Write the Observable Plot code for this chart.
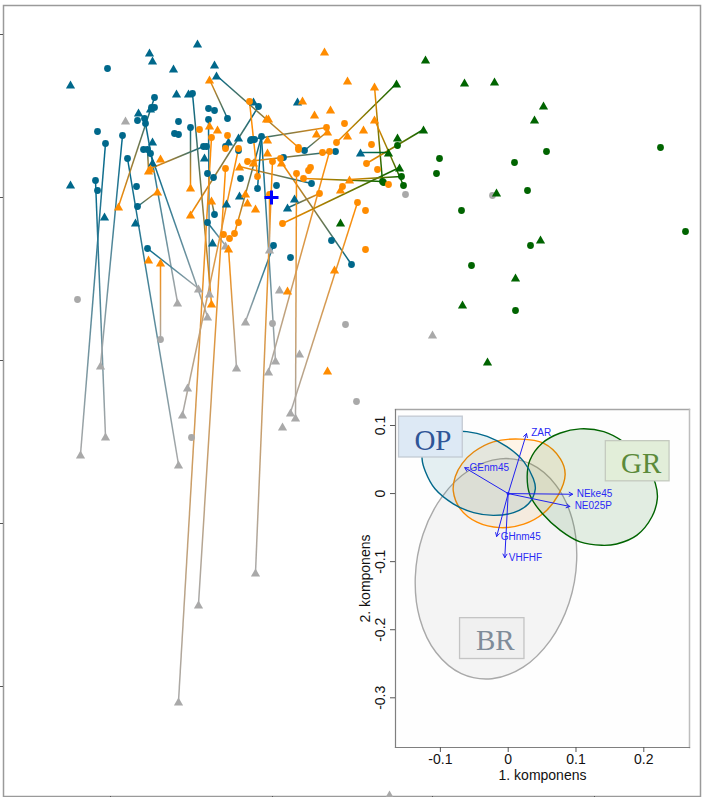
<!DOCTYPE html>
<html>
<head>
<meta charset="utf-8">
<script src="https://cdn.jsdelivr.net/npm/d3@7"></script>
<script src="https://cdn.jsdelivr.net/npm/@observablehq/plot@0.6"></script>
<style>
html,body{margin:0;padding:0;background:#fff}
#wrap{position:relative;width:705px;height:797px;overflow:hidden}
#wrap svg{position:absolute;background:transparent;max-width:none;overflow:visible}
</style>
</head>
<body>
<div id="wrap"></div>
<script>
// Scores on the two components, relative to the centroid (the blue cross). The main panel carries no tick labels.
const opTriangles = [[-201,113],[-122,145],[-119,137],[-74,154],[-98,129],[-57,133],[-55,122],[-95,104],[-83,104],[-133,85],[-121,89],[-119,56],[-119,35],[-201,13],[-67,40],[-43,56],[-33,60],[-32,2],[-45,-6],[-59,-45],[-136,-25],[-167,-19],[-18,96],[26,96],[16,-10],[23,-1],[89,45]];
const opCircles = [[-164,129],[-117,100],[-120,90],[-117,90],[-174,66],[-134,77],[-127,79],[-126,74],[-93,76],[-79,104],[-63,89],[-57,87],[-44,79],[-63,78],[-81,70],[-97,64],[-93,63],[-149,62],[-166,54],[-128,48],[-124,48],[-121,44],[-144,39],[-176,17],[-174,7],[-135,11],[-68,51],[-65,51],[-46,51],[-33,47],[-64,24],[-58,20],[-31,19],[-21,57],[-13,91],[-20,58],[-17,58],[-10,61],[-14,9],[5,12],[12,40],[33,47],[64,46],[40,14],[-57,-17],[-64,-25],[-134,-9],[-124,-51],[2,-48],[60,-43],[19,-60],[80,-67]];
const orTriangles = [[-62,118],[-62,72],[-54,68],[-111,39],[-123,27],[-121,29],[-114,6],[-81,10],[-32,31],[-26,4],[-60,-3],[-153,-9],[-81,-17],[-24,-5],[-16,-11],[-43,-51],[-123,-62],[-111,-65],[-60,-106],[16,-93],[63,-72],[56,-173],[53,146],[76,117],[103,111],[31,97],[43,83],[59,88],[103,78],[92,68],[76,62],[45,64],[56,66],[-3,79],[-5,79],[-4,58],[-4,45],[-18,35],[10,35],[78,18],[69,8]];
const orCircles = [[-72,68],[-60,60],[-44,62],[-46,49],[-33,49],[-24,36],[-46,29],[-22,96],[-14,21],[1,36],[9,39],[-2,3],[-48,-37],[-42,-41],[-37,-36],[-33,-25],[11,-26],[48,4],[25,24],[32,19],[39,30],[37,27],[71,11],[73,74],[55,70],[27,50],[27,48],[65,55],[100,53],[95,34],[106,28],[117,13],[86,-5],[94,-13],[94,-52],[51,45],[58,46]];
const grTriangles = [[154,138],[193,115],[223,116],[272,92],[263,78],[152,68],[125,114],[126,60],[128,30],[117,45],[225,5],[269,-42],[244,-80],[191,-107],[216,-164],[69,-25]];
const grCircles = [[168,39],[275,46],[243,35],[389,50],[165,24],[256,7],[190,-13],[414,-34],[259,-48],[200,-68],[244,-113],[126,52],[130,21],[132,12],[111,16],[112,15]];
const brTriangles = [[-171,-168],[-94,-105],[-73,-91],[-64,-119],[-62,-96],[-46,-48],[-26,-124],[-35,-170],[4,-163],[-3,-174],[28,-156],[8,-92],[-2,-52],[-84,-190],[-89,-217],[-93,-267],[-16,-375],[-73,-407],[-93,-504],[11,-229],[19,-215],[24,-220],[-146,77],[161,-137],[118,-597],[-191,-257],[-166,-239]];
const brCircles = [[-194,-102],[-111,-142],[-80,-240],[1,-126],[74,-127],[85,-204],[134,3],[221,2]];
const centroid = [[0,0]];
// Paired observations: [x1,y1,x2,y2,group1,group2]
const links = [
[-166,54,-191,-257,"OP","BR"],[-176,17,-166,-239,"OP","BR"],[-149,62,-171,-168,"OP","BR"],[-144,39,-93,-267,"OP","BR"],[-126,74,-94,-105,"OP","BR"],[-121,44,-64,-119,"OP","BR"],[-124,-51,-73,-91,"OP","BR"],[-63,78,-62,-96,"OP","BR"],[-64,-25,-46,-48,"OP","BR"],[2,-48,-26,-124,"OP","BR"],[-10,61,4,-163,"OP","BR"],
[-153,-9,-117,100,"OR","OP"],[-114,6,-134,-9,"OR","OP"],[-81,10,-81,70,"OR","OP"],[-121,29,-68,51,"OR","OP"],[-123,27,-124,48,"OR","OP"],[-62,118,-44,79,"OR","OP"],[-60,-106,-79,104,"OR","OP"],[-81,-17,-13,91,"OR","OP"],[-60,-3,-57,-17,"OR","OP"],[-37,-36,-10,61,"OR","OP"],[55,70,-20,58,"OR","OP"],[56,66,33,47,"OR","OP"],[27,50,-55,122,"OR","OP"],[10,35,80,-67,"OR","OP"],[-24,36,64,46,"OR","OP"],[-32,31,40,14,"OR","OP"],[48,4,17,-10,"OR","OP"],
[-10,61,-14,9,"OP","OP"],
[-111,-65,-111,-142,"OR","BR"],[-60,60,-93,-504,"OR","BR"],[-46,29,-73,-407,"OR","BR"],[-33,49,-89,-217,"OR","BR"],[-43,-51,-35,-170,"OR","BR"],[1,36,-16,-375,"OR","BR"],[-2,3,-2,-52,"OR","BR"],[58,46,-3,-174,"OR","BR"],[25,24,24,-220,"OR","BR"],[86,-5,19,-215,"OR","BR"],
[11,-26,128,30,"OR","GR"],[65,55,125,114,"OR","GR"],[103,111,111,16,"OR","GR"],[103,78,132,12,"OR","GR"],[95,34,152,68,"OR","GR"],[32,19,111,16,"OR","GR"],[78,18,130,21,"OR","GR"],
[-22,96,-14,21,"OR","OR"],[89,45,117,45,"OP","GR"]
];
const groupColors = {OP:"#00688b", OR:"#ff8c00", GR:"#006400", BR:"#a9a9a9"};
const mainXTicks = [-161,1,161,323];
const mainYTicks = [163,0,-163,-326,-489];

// Inset: loading plot
const ellipseOP = [[-0.127,0.051],[-0.125,0.066],[-0.108,0.082],[-0.086,0.090],[-0.061,0.091],[-0.031,0.084],[-0.002,0.069],[0.023,0.047],[0.037,0.022],[0.040,0.007],[0.030,-0.015],[0.008,-0.028],[-0.022,-0.032],[-0.051,-0.028],[-0.081,-0.015],[-0.108,0.007],[-0.122,0.032]];
const ellipseOR = [[-0.068,0.044],[-0.051,0.061],[-0.022,0.076],[0.018,0.080],[0.052,0.074],[0.077,0.051],[0.084,0.028],[0.074,-0.002],[0.052,-0.029],[0.023,-0.045],[-0.012,-0.050],[-0.046,-0.042],[-0.071,-0.022],[-0.081,0.004],[-0.078,0.025]];
const ellipseGR = [[0.032,0.049],[0.050,0.074],[0.077,0.089],[0.106,0.095],[0.141,0.091],[0.170,0.076],[0.200,0.049],[0.217,0.015],[0.220,-0.007],[0.212,-0.034],[0.190,-0.061],[0.160,-0.074],[0.138,-0.076],[0.106,-0.071],[0.077,-0.054],[0.050,-0.029],[0.032,-0.002],[0.028,0.025]];
const ellipseBR = [[0.101,-0.098],[0.0943,-0.0372],[0.0703,0.0125],[0.0331,0.0435],[-0.012,0.051],[-0.0581,0.0339],[-0.0979,-0.0051],[-0.1257,-0.0602],[-0.137,-0.123],[-0.1303,-0.1838],[-0.1063,-0.2335],[-0.0691,-0.2645],[-0.024,-0.272],[0.0221,-0.2549],[0.0619,-0.2159],[0.0897,-0.1608]];
const variables = ["ZAR","GEnm45","NEke45","NE025P","GHnm45","VHFHF"];
const loadingX = [0.027,-0.064,0.095,0.091,-0.017,-0.005];
const loadingY = [0.088,0.038,-0.001,-0.019,-0.063,-0.094];
const labelX = [0.034,-0.057,0.101,0.098,-0.011,0.001];
const labelY = [0.089,0.038,-0.001,-0.018,-0.063,-0.095];
const groupBoxes = [
  {name:"OP", x1:-0.161, x2:-0.067, y1:0.053, y2:0.113, tx:-0.111, ty:0.078, fill:"#dde9f5", stroke:"#c3cad3", color:"#2f5597"},
  {name:"GR", x1:0.144, x2:0.238, y1:0.018, y2:0.077, tx:0.196, ty:0.044, fill:"#e2eed9", stroke:"#c4cabf", color:"#5b8a3a"},
  {name:"BR", x1:-0.071, x2:0.024, y1:-0.243, y2:-0.183, tx:-0.019, ty:-0.216, fill:"#f0f0f0", stroke:"#c4c4c4", color:"#7f8c99"}
];
const insetXTicks = [-0.1,0,0.1,0.2];
const insetYTicks = [0.1,0,-0.1,-0.2,-0.3];

const circleOpts = color => ({x:d=>d[0], y:d=>d[1], fill:color, stroke:"none", symbol:"circle", r:3.4});
const triangleOpts = color => ({x:d=>d[0], y:d=>d[1], fill:color, stroke:"none", symbol:"triangle", r:3.4, dy:1.3});
const main = Plot.plot({
  width:705, height:797,
  marginLeft:3, marginRight:5, marginTop:5, marginBottom:1,
  x:{domain:[-268,429], axis:null},
  y:{domain:[-599,192], axis:null},
  marks:[
    Plot.frame({stroke:"#9a9a9a", strokeWidth:1.5}),
    Plot.axisX({anchor:"bottom", ticks:mainXTicks, tickSize:2, stroke:"#555", fill:"none", label:null}),
    Plot.axisY({anchor:"left", ticks:mainYTicks, tickSize:4, stroke:"#555", fill:"none", label:null}),
    Plot.link(links, {x1:d=>d[0], y1:d=>d[1], x2:d=>d[2], y2:d=>d[3], stroke:{value:(d,i)=>`url(#lk${i})`, scale:null}, strokeWidth:1.5}),
    Plot.dot(brCircles, circleOpts(groupColors.BR)),
    Plot.dot(brTriangles, triangleOpts(groupColors.BR)),
    Plot.dot(grCircles, circleOpts(groupColors.GR)),
    Plot.dot(grTriangles, triangleOpts(groupColors.GR)),
    Plot.dot(opCircles, circleOpts(groupColors.OP)),
    Plot.dot(opTriangles, triangleOpts(groupColors.OP)),
    Plot.dot(orCircles, circleOpts(groupColors.OR)),
    Plot.dot(orTriangles, triangleOpts(groupColors.OR)),
    Plot.dot(centroid, {x:d=>d[0], y:d=>d[1], symbol:"plus", stroke:"#0000ff", strokeWidth:3, r:4.6})
  ]
});
main.style.left = "0px"; main.style.top = "0px";
const sx = main.scale("x"), sy = main.scale("y");
const defs = d3.select(main).append("defs");
links.forEach((l,i) => {
  const g = defs.append("linearGradient").attr("id",`lk${i}`).attr("gradientUnits","userSpaceOnUse")
    .attr("x1",sx.apply(l[0])).attr("y1",sy.apply(l[1])).attr("x2",sx.apply(l[2])).attr("y2",sy.apply(l[3]));
  g.append("stop").attr("offset","0").attr("stop-color",groupColors[l[4]]);
  g.append("stop").attr("offset","1").attr("stop-color",groupColors[l[5]]);
});

const ell = (pts,color,op) => Plot.line(pts,{x:d=>d[0], y:d=>d[1], curve:"catmull-rom-closed", stroke:color, strokeWidth:1.4, fill:color, fillOpacity:op});
const fmt = d => d === 0 ? "0" : String(d);
const inset = Plot.plot({
  width:355, height:395,
  marginLeft:45, marginRight:16, marginTop:9, marginBottom:48,
  style:{fontFamily:"'Liberation Sans', Arial, sans-serif"},
  x:{domain:[-0.1662,0.2674], axis:null},
  y:{domain:[-0.373,0.1235], axis:null},
  marks:[
    Plot.frame({fill:"#fefefe", stroke:"none"}),
    ell(ellipseBR,"#a9a9a9",0.12),
    ell(ellipseOR,"#ff8c00",0.09),
    ell(ellipseGR,"#006400",0.11),
    ell(ellipseOP,"#00688b",0.1),
    Plot.frame({anchor:"top", stroke:"#a6a6a6", strokeWidth:1.3}),
    Plot.frame({anchor:"right", stroke:"#bdbdbd", strokeWidth:1.5}),
    Plot.frame({anchor:"left", stroke:"#7f7f7f", strokeWidth:1.2}),
    Plot.frame({anchor:"bottom", stroke:"#7f7f7f", strokeWidth:1.2}),
    Plot.axisX({anchor:"bottom", ticks:insetXTicks, tickSize:5, tickPadding:2, tickFormat:fmt, fontSize:14, stroke:"#555", fill:"#111", label:"1. komponens", labelAnchor:"center", labelArrow:"none", labelOffset:32}),
    Plot.axisY({anchor:"left", ticks:insetYTicks, tickSize:5, tickPadding:6, tickRotate:-90, tickFormat:fmt, fontSize:14, stroke:"#555", fill:"#111", label:"2. komponens", labelAnchor:"center", labelArrow:"none", labelOffset:35}),
    Plot.rect(groupBoxes,{x1:"x1",x2:"x2",y1:"y1",y2:"y2",fill:"fill",stroke:"stroke",strokeWidth:1.3}),
    Plot.text(groupBoxes,{x:"tx",y:"ty",text:"name",fill:"color",fontFamily:"'Liberation Serif', serif",fontSize:29}),
    Plot.arrow(variables,{x1:0,y1:0,x2:(d,i)=>loadingX[i],y2:(d,i)=>loadingY[i],stroke:"#2020f0",strokeWidth:1,headLength:6,bend:0}),
    Plot.dot(centroid,{x:d=>d[0],y:d=>d[1],r:1.6,fill:"#2020f0",stroke:"none"}),
    Plot.text(variables,{x:(d,i)=>labelX[i],y:(d,i)=>labelY[i],text:d=>d,textAnchor:"start",fill:"#2a2af5",fontSize:10})
  ]
});
inset.style.left = "350px"; inset.style.top = "400px";
const wrap = document.getElementById("wrap");
wrap.appendChild(main);
wrap.appendChild(inset);
</script>
</body>
</html>
